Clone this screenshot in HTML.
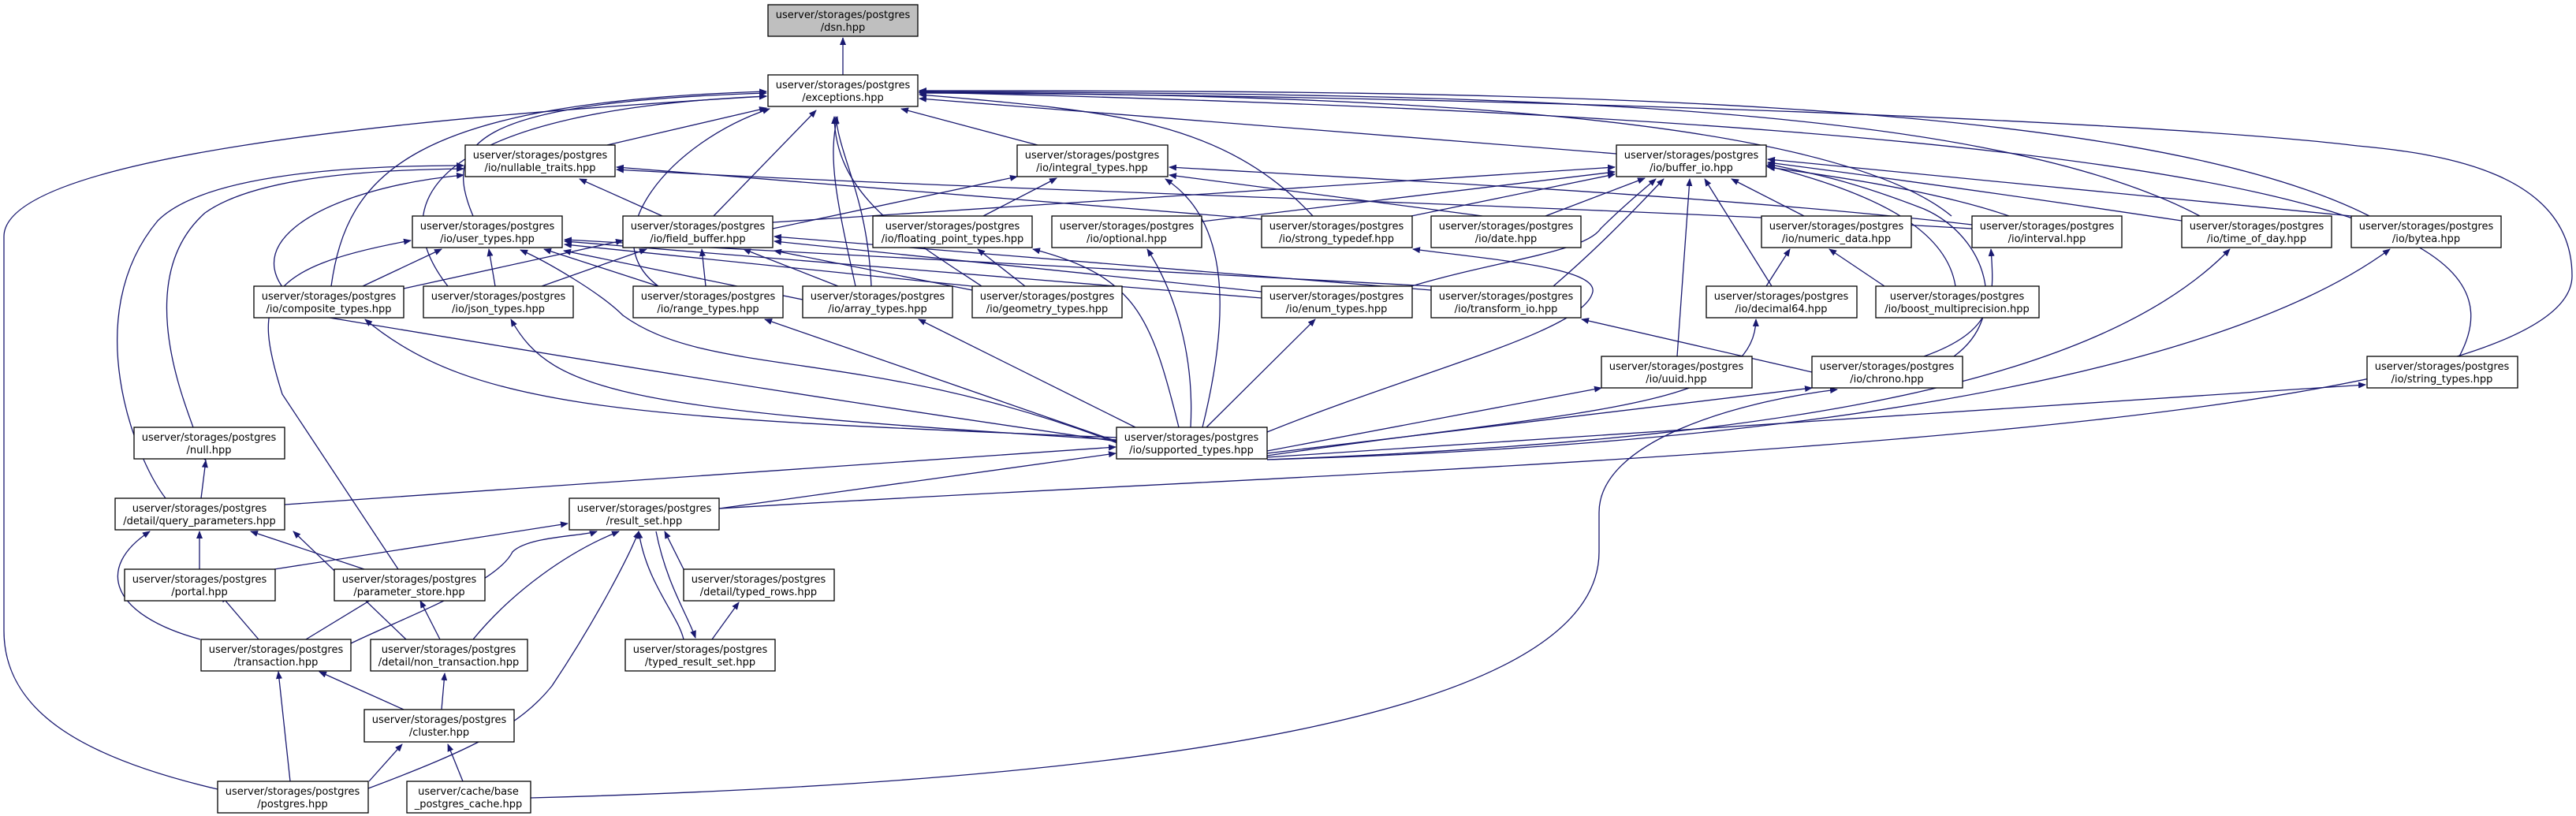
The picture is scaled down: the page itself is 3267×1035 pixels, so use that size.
<!DOCTYPE html>
<html><head><meta charset="utf-8"><style>
html,body{margin:0;padding:0;background:#fff;}
svg{display:block;}
text{font-family:"DejaVu Sans","Liberation Sans",sans-serif;font-size:13px;fill:#000;text-anchor:middle;}
.e{fill:none;stroke:#191970;stroke-width:1.3;marker-end:url(#a);}
.n{fill:#fff;stroke:#000;stroke-width:1.3;}
</style></head><body>
<svg width="3267" height="1035" viewBox="0 0 3267 1035" xmlns="http://www.w3.org/2000/svg">
<defs><marker id="a" markerWidth="10" markerHeight="8" refX="9" refY="4" orient="auto" markerUnits="userSpaceOnUse"><path d="M0 0 L10 4 L0 8 Z" fill="#191970"/></marker></defs>
<g>
<path class="e" d="M1069 95 L1069 48"/>
<path class="e" d="M770 184 L972 137"/>
<path class="e" d="M600 274 C560 180 600 130 972 118"/>
<path class="e" d="M905 274 L1035 140"/>
<path class="e" d="M1316 184 L1143 138"/>
<path class="e" d="M2050 195 L1166 125"/>
<path class="e" d="M420 363 C440 220 520 130 972 116"/>
<path class="e" d="M568 363 C480 250 560 140 972 122"/>
<path class="e" d="M835 363 C750 300 850 180 976 138"/>
<path class="e" d="M1085 363 C1060 250 1050 200 1062 148"/>
<path class="e" d="M1105 363 C1100 250 1065 200 1060 148"/>
<path class="e" d="M1245 363 C1150 300 1060 250 1058 148"/>
<path class="e" d="M1665 274 C1550 150 1400 140 1166 120"/>
<path class="e" d="M2475 274 C2300 130 1600 120 1166 117"/>
<path class="e" d="M2790 274 C2500 120 1800 120 1166 116"/>
<path class="e" d="M3005 274 C2700 120 1900 115 1166 115"/>
<path class="e" d="M3119 452 C3200 300 3000 160 1166 117"/>
<path class="e" d="M912 645 C1800 590 3262 560 3262 350 C3262 220 3100 195 2990 185 C2700 150 1800 120 1166 118"/>
<path class="e" d="M276 1001 C100 960 5 900 5 800 L5 300 C5 200 500 150 972 122"/>
<path class="e" d="M210 632 C170 580 100 400 200 280 C260 220 450 210 588 210"/>
<path class="e" d="M245 542 C230 500 170 350 260 270 C330 220 500 215 588 214"/>
<path class="e" d="M840 274 L735 227"/>
<path class="e" d="M1600 278 L782 212"/>
<path class="e" d="M2501 290 C2000 260 1200 240 782 215"/>
<path class="e" d="M1417 560 C1000 500 700 450 400 400 C270 320 400 240 588 222"/>
<path class="e" d="M980 290 L1290 224"/>
<path class="e" d="M1247 274 L1340 226"/>
<path class="e" d="M1880 274 L1483 222"/>
<path class="e" d="M2501 285 C2200 250 1800 230 1483 212"/>
<path class="e" d="M980 282 L2048 212"/>
<path class="e" d="M1524 281 L2048 218"/>
<path class="e" d="M1790 274 L2048 221"/>
<path class="e" d="M1960 274 L2086 226"/>
<path class="e" d="M1790 363 C1900 330 2010 320 2030 290 C2060 260 2085 240 2100 227"/>
<path class="e" d="M1970 363 C2020 320 2060 280 2110 227"/>
<path class="e" d="M2127 452 L2143 227"/>
<path class="e" d="M2247 363 L2162 227"/>
<path class="e" d="M2288 274 L2196 227"/>
<path class="e" d="M2480 363 C2470 300 2400 250 2240 210"/>
<path class="e" d="M2548 274 C2450 240 2300 220 2242 212"/>
<path class="e" d="M2767 280 C2500 240 2350 220 2242 206"/>
<path class="e" d="M2982 274 L2242 202"/>
<path class="e" d="M2478 452 C2550 400 2520 300 2440 265 C2350 230 2300 220 2242 208"/>
<path class="e" d="M460 363 L560 316"/>
<path class="e" d="M628 363 L620 316"/>
<path class="e" d="M835 363 L690 316"/>
<path class="e" d="M1018 380 L715 318"/>
<path class="e" d="M1233 363 L716 310"/>
<path class="e" d="M1600 378 L716 306"/>
<path class="e" d="M1815 363 L716 304"/>
<path class="e" d="M1417 562 C1100 440 900 480 790 400 C760 370 690 330 660 317"/>
<path class="e" d="M505 722 L358 500 C320 380 330 340 521 305"/>
<path class="e" d="M512 366 L790 305"/>
<path class="e" d="M687 363 L820 316"/>
<path class="e" d="M895 363 L890 316"/>
<path class="e" d="M1063 363 L943 316"/>
<path class="e" d="M1233 368 L982 318"/>
<path class="e" d="M1600 370 L982 306"/>
<path class="e" d="M1815 368 L982 300"/>
<path class="e" d="M1300 363 L1240 316"/>
<path class="e" d="M2240 363 L2270 316"/>
<path class="e" d="M2390 363 L2320 316"/>
<path class="e" d="M2440 452 C2530 420 2530 380 2525 316"/>
<path class="e" d="M1607 548 C1800 470 2010 420 2020 370 C2025 340 1900 330 1792 316"/>
<path class="e" d="M2298 472 L2006 405"/>
<path class="e" d="M1417 555 C800 530 600 520 463 405"/>
<path class="e" d="M1417 558 C800 520 700 500 648 405"/>
<path class="e" d="M1417 560 L970 405"/>
<path class="e" d="M1440 542 L1165 405"/>
<path class="e" d="M1530 542 L1668 405"/>
<path class="e" d="M1510 542 C1515 450 1490 370 1455 316"/>
<path class="e" d="M1495 542 C1460 400 1440 350 1310 316"/>
<path class="e" d="M1525 542 C1560 400 1560 280 1478 227"/>
<path class="e" d="M1607 578 C2000 520 2225 520 2227 405"/>
<path class="e" d="M1607 572 L2031 492"/>
<path class="e" d="M1607 575 L2298 492"/>
<path class="e" d="M1607 583 C2200 560 2650 500 2828 316"/>
<path class="e" d="M1607 583 C2400 560 2850 450 3031 316"/>
<path class="e" d="M1607 580 L3000 488"/>
<path class="e" d="M361 640 L1415 567"/>
<path class="e" d="M912 645 L1415 575"/>
<path class="e" d="M673 1012 C1500 990 2028 900 2028 700 L2028 650 C2028 560 2200 510 2330 494"/>
<path class="e" d="M255 575 L261 584"/>
<path class="e" d="M255 632 L261 584"/>
<path class="e" d="M253 722 L253 674"/>
<path class="e" d="M462 722 L318 674"/>
<path class="e" d="M515 811 L372 674"/>
<path class="e" d="M254 811 C140 780 120 720 190 674"/>
<path class="e" d="M348 722 L720 664"/>
<path class="e" d="M328 811 L280 755"/>
<path class="e" d="M388 811 L480 755"/>
<path class="e" d="M558 811 L533 762"/>
<path class="e" d="M445 816 C520 780 630 740 650 700 C670 680 740 680 757 674"/>
<path class="e" d="M600 811 C650 750 720 700 785 674"/>
<path class="e" d="M867 722 L843 674"/>
<path class="e" d="M867 811 C860 780 820 740 810 674"/>
<path class="e" d="M832 674 C845 740 872 780 882 809"/>
<path class="e" d="M903 811 L937 764"/>
<path class="e" d="M468 991 L510 944"/>
<path class="e" d="M368 991 L353 852"/>
<path class="e" d="M587 991 L568 944"/>
<path class="e" d="M512 900 L405 852"/>
<path class="e" d="M560 900 L564 854"/>
<path class="e" d="M467 1000 C600 950 660 920 700 870 C760 780 800 700 810 674"/>
</g>
<g>
<rect class="n" x="974" y="6" width="190" height="40" fill="#bfbfbf" style="fill:#bfbfbf"/><text x="1069" y="23">userver/storages/postgres</text><text x="1069" y="39">/dsn.hpp</text>
<rect class="n" x="974" y="95" width="190" height="40"/><text x="1069" y="112">userver/storages/postgres</text><text x="1069" y="128">/exceptions.hpp</text>
<rect class="n" x="590" y="184" width="190" height="40"/><text x="685" y="201">userver/storages/postgres</text><text x="685" y="217">/io/nullable_traits.hpp</text>
<rect class="n" x="1290" y="184" width="191" height="40"/><text x="1385" y="201">userver/storages/postgres</text><text x="1385" y="217">/io/integral_types.hpp</text>
<rect class="n" x="2050" y="184" width="190" height="40"/><text x="2145" y="201">userver/storages/postgres</text><text x="2145" y="217">/io/buffer_io.hpp</text>
<rect class="n" x="523" y="274" width="190" height="40"/><text x="618" y="291">userver/storages/postgres</text><text x="618" y="307">/io/user_types.hpp</text>
<rect class="n" x="790" y="274" width="190" height="40"/><text x="885" y="291">userver/storages/postgres</text><text x="885" y="307">/io/field_buffer.hpp</text>
<rect class="n" x="1107" y="274" width="202" height="40"/><text x="1208" y="291">userver/storages/postgres</text><text x="1208" y="307">/io/floating_point_types.hpp</text>
<rect class="n" x="1334" y="274" width="190" height="40"/><text x="1429" y="291">userver/storages/postgres</text><text x="1429" y="307">/io/optional.hpp</text>
<rect class="n" x="1600" y="274" width="191" height="40"/><text x="1695" y="291">userver/storages/postgres</text><text x="1695" y="307">/io/strong_typedef.hpp</text>
<rect class="n" x="1815" y="274" width="190" height="40"/><text x="1910" y="291">userver/storages/postgres</text><text x="1910" y="307">/io/date.hpp</text>
<rect class="n" x="2234" y="274" width="190" height="40"/><text x="2329" y="291">userver/storages/postgres</text><text x="2329" y="307">/io/numeric_data.hpp</text>
<rect class="n" x="2501" y="274" width="190" height="40"/><text x="2596" y="291">userver/storages/postgres</text><text x="2596" y="307">/io/interval.hpp</text>
<rect class="n" x="2767" y="274" width="190" height="40"/><text x="2862" y="291">userver/storages/postgres</text><text x="2862" y="307">/io/time_of_day.hpp</text>
<rect class="n" x="2982" y="274" width="190" height="40"/><text x="3077" y="291">userver/storages/postgres</text><text x="3077" y="307">/io/bytea.hpp</text>
<rect class="n" x="322" y="363" width="190" height="40"/><text x="417" y="380">userver/storages/postgres</text><text x="417" y="396">/io/composite_types.hpp</text>
<rect class="n" x="537" y="363" width="190" height="40"/><text x="632" y="380">userver/storages/postgres</text><text x="632" y="396">/io/json_types.hpp</text>
<rect class="n" x="803" y="363" width="190" height="40"/><text x="898" y="380">userver/storages/postgres</text><text x="898" y="396">/io/range_types.hpp</text>
<rect class="n" x="1018" y="363" width="190" height="40"/><text x="1113" y="380">userver/storages/postgres</text><text x="1113" y="396">/io/array_types.hpp</text>
<rect class="n" x="1233" y="363" width="190" height="40"/><text x="1328" y="380">userver/storages/postgres</text><text x="1328" y="396">/io/geometry_types.hpp</text>
<rect class="n" x="1600" y="363" width="191" height="40"/><text x="1695" y="380">userver/storages/postgres</text><text x="1695" y="396">/io/enum_types.hpp</text>
<rect class="n" x="1815" y="363" width="190" height="40"/><text x="1910" y="380">userver/storages/postgres</text><text x="1910" y="396">/io/transform_io.hpp</text>
<rect class="n" x="2164" y="363" width="191" height="40"/><text x="2259" y="380">userver/storages/postgres</text><text x="2259" y="396">/io/decimal64.hpp</text>
<rect class="n" x="2379" y="363" width="207" height="40"/><text x="2482" y="380">userver/storages/postgres</text><text x="2482" y="396">/io/boost_multiprecision.hpp</text>
<rect class="n" x="2031" y="452" width="191" height="40"/><text x="2126" y="469">userver/storages/postgres</text><text x="2126" y="485">/io/uuid.hpp</text>
<rect class="n" x="2298" y="452" width="191" height="40"/><text x="2393" y="469">userver/storages/postgres</text><text x="2393" y="485">/io/chrono.hpp</text>
<rect class="n" x="3002" y="452" width="191" height="40"/><text x="3097" y="469">userver/storages/postgres</text><text x="3097" y="485">/io/string_types.hpp</text>
<rect class="n" x="170" y="542" width="191" height="40"/><text x="265" y="559">userver/storages/postgres</text><text x="265" y="575">/null.hpp</text>
<rect class="n" x="1416" y="542" width="191" height="40"/><text x="1511" y="559">userver/storages/postgres</text><text x="1511" y="575">/io/supported_types.hpp</text>
<rect class="n" x="146" y="632" width="215" height="40"/><text x="253" y="649">userver/storages/postgres</text><text x="253" y="665">/detail/query_parameters.hpp</text>
<rect class="n" x="722" y="632" width="190" height="40"/><text x="817" y="649">userver/storages/postgres</text><text x="817" y="665">/result_set.hpp</text>
<rect class="n" x="158" y="722" width="191" height="40"/><text x="253" y="739">userver/storages/postgres</text><text x="253" y="755">/portal.hpp</text>
<rect class="n" x="424" y="722" width="191" height="40"/><text x="519" y="739">userver/storages/postgres</text><text x="519" y="755">/parameter_store.hpp</text>
<rect class="n" x="867" y="722" width="191" height="40"/><text x="962" y="739">userver/storages/postgres</text><text x="962" y="755">/detail/typed_rows.hpp</text>
<rect class="n" x="255" y="811" width="190" height="40"/><text x="350" y="828">userver/storages/postgres</text><text x="350" y="844">/transaction.hpp</text>
<rect class="n" x="470" y="811" width="199" height="40"/><text x="569" y="828">userver/storages/postgres</text><text x="569" y="844">/detail/non_transaction.hpp</text>
<rect class="n" x="793" y="811" width="190" height="40"/><text x="888" y="828">userver/storages/postgres</text><text x="888" y="844">/typed_result_set.hpp</text>
<rect class="n" x="462" y="900" width="190" height="41"/><text x="557" y="917">userver/storages/postgres</text><text x="557" y="933">/cluster.hpp</text>
<rect class="n" x="276" y="991" width="191" height="40"/><text x="371" y="1008">userver/storages/postgres</text><text x="371" y="1024">/postgres.hpp</text>
<rect class="n" x="516" y="991" width="157" height="40"/><text x="594" y="1008">userver/cache/base</text><text x="594" y="1024">_postgres_cache.hpp</text>
</g>
</svg>
</body></html>
